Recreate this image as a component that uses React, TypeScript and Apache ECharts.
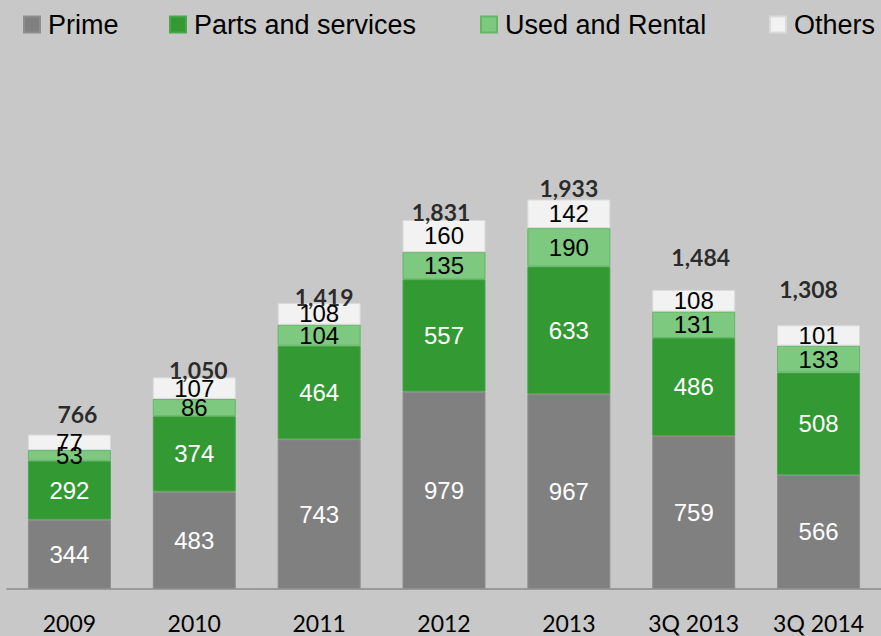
import React, { useEffect, useRef } from "react";
import * as echarts from "echarts";

const categories = ["2009", "2010", "2011", "2012", "2013", "3Q 2013", "3Q 2014"];
const prime = [344, 483, 743, 979, 967, 759, 566];
const partsServices = [292, 374, 464, 557, 633, 486, 508];
const usedRental = [53, 86, 104, 135, 190, 131, 133];
const others = [77, 107, 108, 160, 142, 108, 101];
const totals = [766, 1050, 1419, 1831, 1933, 1484, 1308];
const seriesNames = ["Prime", "Parts and services", "Used and Rental", "Others"];

export default function App() {
  const ref = useRef<HTMLDivElement>(null);

  useEffect(() => {
    document.body.style.margin = "0";
    if (!ref.current) return;
    const chart = echarts.init(ref.current, null, { renderer: "svg" });

    const colors = ["#808080", "#339933", "#7dc97f", "#f2f2f2"];
    const borders = ["#8e8e8e", "#4aa64a", "#63b866", "#dadada"];
    const labelColors = ["#ffffff", "#ffffff", "#000000", "#000000"];
    const values = [prime, partsServices, usedRental, others];
    const legendLeft = [23, 169, 480, 769];
    const totalOffsets = [[8, -21], [4, -7], [5, -6], [-3, -8], [0, -11], [7, -33], [-10, -36]];

    const barSeries = seriesNames.map((name, i) => ({
      name,
      type: "bar",
      stack: "total",
      barWidth: 83,
      data: values[i],
      itemStyle: { color: colors[i], borderColor: borders[i], borderWidth: 1 },
      label: {
        show: true,
        position: "inside",
        color: labelColors[i],
        fontFamily: "Liberation Sans, Arial, sans-serif",
        fontSize: 24,
      },
    }));

    const totalSeries = {
      name: "Total",
      type: "scatter",
      symbolSize: 0,
      z: 5,
      data: totals.map((v, i) => ({
        value: v,
        label: { offset: totalOffsets[i] },
      })),
      label: {
        show: true,
        position: "inside",
        color: "#000000",
        fontFamily: "Lato, sans-serif",
        fontWeight: "bold",
        fontSize: 23,
        formatter: (p: any) => Number(p.value).toLocaleString("en-US"),
      },
    };

    chart.setOption({
      animation: false,
      backgroundColor: "#c8c8c8",
      legend: seriesNames.map((name, i) => ({
        data: [name],
        left: legendLeft[i],
        top: 11,
        padding: 0,
        itemWidth: 16,
        itemHeight: 16,
        icon: "rect",
        selectedMode: false,
        textStyle: {
          fontFamily: "Liberation Sans, Arial, sans-serif",
          fontSize: 27,
          color: "#000000",
          padding: [0, 0, 0, 3],
        },
      })),
      grid: { left: 7, right: 0, top: 85, bottom: 47 },
      xAxis: {
        type: "category",
        data: categories,
        axisLine: { show: true, lineStyle: { color: "#8a8a8a", width: 1.5 } },
        axisTick: { show: false },
        axisLabel: {
          color: "#000000",
          fontFamily: "Lato, sans-serif",
          fontSize: 23,
          margin: 22,
          interval: 0,
        },
      },
      yAxis: {
        type: "value",
        min: 0,
        max: 2500,
        show: false,
        splitLine: { show: false },
      },
      series: [...barSeries, totalSeries],
    });

    return () => chart.dispose();
  }, []);

  return <div ref={ref} style={{ width: 881, height: 636 }} />;
}
